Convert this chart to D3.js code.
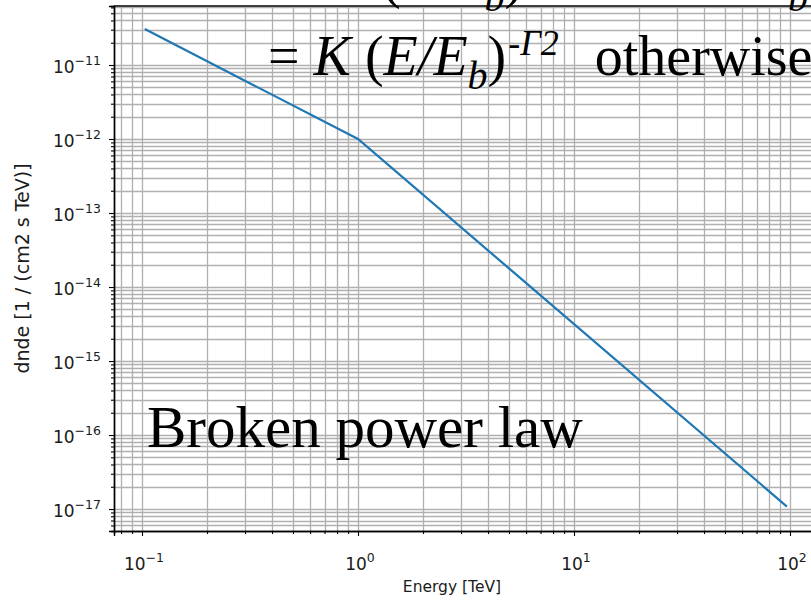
<!DOCTYPE html>
<html>
<head>
<meta charset="utf-8">
<script src="https://cdn.jsdelivr.net/npm/d3@7"></script>
<style>
  html, body { margin: 0; padding: 0; background: #fff; }
  svg { display: block; }
</style>
</head>
<body>
<div id="chart"></div>
<script>
// Broken power law spectrum: nodes of the piecewise log-log line
const energy = [0.103, 1, 96.8];               // TeV
const dnde = [3.06e-11, 1.0e-12, 1.08e-17];     // 1 / (cm2 s TeV)

// Axis limits and tick labels
const xLimits = [0.0742, 134.8];
const yLimits = [5.05e-18, 6.27e-11];
const xMajorTicks = [0.1, 1, 10, 100];
const xTickExp = ["\u22121", "0", "1", "2"];
const yMajorTicks = [1e-17, 1e-16, 1e-15, 1e-14, 1e-13, 1e-12, 1e-11];
const yTickExp = ["\u221217", "\u221216", "\u221215", "\u221214", "\u221213", "\u221212", "\u221211"];

const W = 811, H = 600;
const plot = { left: 114, right: 818, top: 6, bottom: 531 };

const svg = d3.select("#chart").append("svg")
  .attr("width", W).attr("height", H);

const x = d3.scaleLog().domain(xLimits).range([plot.left, plot.right]);
const y = d3.scaleLog().domain(yLimits).range([plot.bottom, plot.top]);

// minor tick positions: 2..9 times each decade within the limits
function minorTicks(lim) {
  const out = [];
  const lo = Math.floor(Math.log10(lim[0])), hi = Math.ceil(Math.log10(lim[1]));
  for (let e = lo; e <= hi; e++) {
    for (let m = 2; m <= 9; m++) {
      const v = m * Math.pow(10, e);
      if (v >= lim[0] && v <= lim[1]) out.push(v);
    }
  }
  return out;
}
const xMinor = minorTicks(xLimits);
const yMinor = minorTicks(yLimits);

const defs = svg.append("defs");
defs.append("clipPath").attr("id", "clip")
  .append("rect")
  .attr("x", plot.left).attr("y", plot.top)
  .attr("width", plot.right - plot.left).attr("height", plot.bottom - plot.top);

// grid (major and minor share the same style)
const grid = svg.append("g").attr("clip-path", "url(#clip)")
  .attr("stroke", "#b0b0b0").attr("stroke-width", 1.3);
grid.selectAll("line.gx").data(xMajorTicks.concat(xMinor)).join("line")
  .attr("class", "gx")
  .attr("x1", d => Math.round(x(d)) + 0.5).attr("x2", d => Math.round(x(d)) + 0.5)
  .attr("y1", plot.top).attr("y2", plot.bottom);
grid.selectAll("line.gy").data(yMajorTicks.concat(yMinor)).join("line")
  .attr("class", "gy")
  .attr("y1", d => Math.round(y(d)) + 0.5).attr("y2", d => Math.round(y(d)) + 0.5)
  .attr("x1", plot.left).attr("x2", plot.right);

// spectrum line
const line = d3.line().x((d, i) => x(energy[i])).y(d => y(d));
svg.append("path")
  .datum(dnde)
  .attr("d", line)
  .attr("fill", "none")
  .attr("stroke", "#1f77b4")
  .attr("stroke-width", 2.2);

// axes with major ticks (labels drawn separately for superscripts)
const xAxis = svg.append("g")
  .attr("transform", `translate(0,${plot.bottom})`)
  .call(d3.axisBottom(x).tickValues(xMajorTicks).tickSize(5).tickFormat(""));
const xAxisMinor = svg.append("g")
  .attr("transform", `translate(0,${plot.bottom})`)
  .call(d3.axisBottom(x).tickValues(xMinor).tickSize(3).tickFormat(""));
const yAxis = svg.append("g")
  .attr("transform", `translate(${plot.left},0)`)
  .call(d3.axisLeft(y).tickValues(yMajorTicks).tickSize(5).tickFormat(""));
const yAxisMinor = svg.append("g")
  .attr("transform", `translate(${plot.left},0)`)
  .call(d3.axisLeft(y).tickValues(yMinor).tickSize(3).tickFormat(""));
[xAxis, xAxisMinor, yAxis, yAxisMinor].forEach(g => {
  g.select(".domain").attr("stroke", "#000").attr("stroke-width", 1.4);
  g.selectAll(".tick line").attr("stroke", "#000").attr("stroke-width", 1.1);
});
svg.append("line")
  .attr("x1", plot.left).attr("x2", plot.right)
  .attr("y1", plot.top).attr("y2", plot.top)
  .attr("stroke", "#000").attr("stroke-width", 1.4);

const tickFont = "'DejaVu Sans', sans-serif";

// x tick labels: 10^n
const xl = svg.append("g").attr("font-family", tickFont).attr("fill", "#1a1a1a");
xMajorTicks.forEach((v, i) => {
  const t = xl.append("text")
    .attr("x", x(v) + 2).attr("y", plot.bottom + 39)
    .attr("text-anchor", "middle")
    .attr("font-size", 17);
  t.append("tspan").text("10");
  t.append("tspan").attr("dy", -8).attr("font-size", 12.5).text(xTickExp[i]);
});

// y tick labels: 10^n
const yl = svg.append("g").attr("font-family", tickFont).attr("fill", "#1a1a1a");
yMajorTicks.forEach((v, i) => {
  const t = yl.append("text")
    .attr("x", plot.left - 13).attr("y", y(v) + 8)
    .attr("text-anchor", "end")
    .attr("font-size", 17);
  t.append("tspan").text("10");
  t.append("tspan").attr("dy", -8).attr("font-size", 12.5).text(yTickExp[i]);
});

// axis titles
svg.append("text")
  .attr("x", 452).attr("y", 592)
  .attr("text-anchor", "middle")
  .attr("font-family", tickFont).attr("font-size", 15.5).attr("fill", "#1a1a1a")
  .text("Energy [TeV]");
svg.append("text")
  .attr("transform", `translate(29,${(plot.top + plot.bottom) / 2}) rotate(-90)`)
  .attr("text-anchor", "middle")
  .attr("font-family", tickFont).attr("font-size", 19).attr("fill", "#1a1a1a")
  .text("dnde [1 / (cm2 s TeV)]");

// model formula and title, in serif
const serif = "'Liberation Serif', 'Times New Roman', serif";
function formula(xPos, yBase, gammaLabel, tail) {
  const t = svg.append("text")
    .attr("x", xPos).attr("y", yBase)
    .attr("font-family", serif).attr("font-size", 56).attr("fill", "#000")
    .attr("xml:space", "preserve");
  t.append("tspan").text("= ");
  t.append("tspan").attr("font-style", "italic").text("K ");
  t.append("tspan").text("(");
  t.append("tspan").attr("font-style", "italic").text("E/E");
  t.append("tspan").attr("font-style", "italic").attr("font-size", 40).attr("dy", 14).text("b");
  t.append("tspan").attr("dy", -14).text(")");
  t.append("tspan").attr("font-style", "italic").attr("font-size", 36).attr("dy", -20).attr("dx", 2).text("-\u0393" + gammaLabel);
  t.append("tspan").attr("dy", 20).attr("dx", 8).text("  ");
  tail(t);
}
formula(285, -3, "1", t => {
  t.append("tspan").text("if ");
  t.append("tspan").attr("font-style", "italic").text("E");
  t.append("tspan").text(" < ");
  t.append("tspan").attr("font-style", "italic").text("E");
  t.append("tspan").attr("font-style", "italic").attr("font-size", 40).attr("dy", 14).text("b");
});
formula(268, 75, "2", t => {
  t.append("tspan").text("otherwise");
});

svg.append("text")
  .attr("x", 147).attr("y", 447)
  .attr("font-family", serif).attr("font-size", 59).attr("fill", "#000")
  .text("Broken power law");
</script>
</body>
</html>
